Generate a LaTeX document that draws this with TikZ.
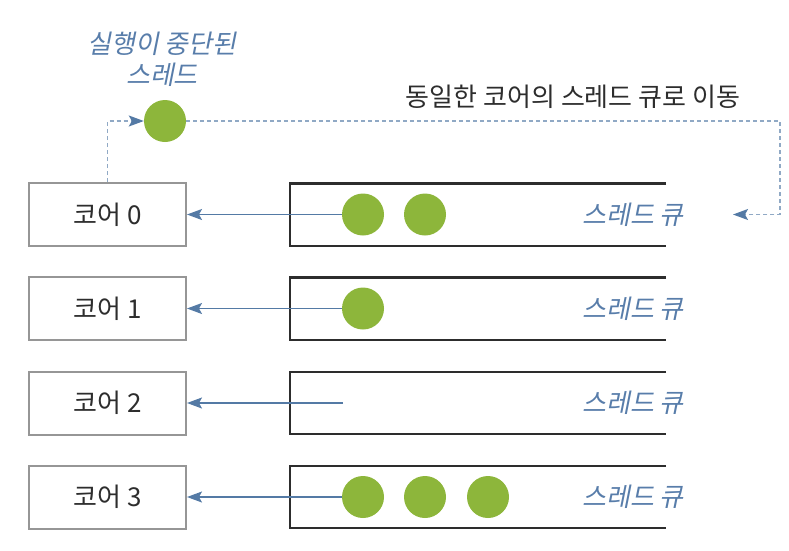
\documentclass[tikz,border=0pt]{standalone}
\usepackage{fontspec}
\setmainfont{Noto Sans CJK KR}
\newfontfamily\slantkr[FakeSlant=0.2]{Noto Sans CJK KR}
\usetikzlibrary{calc, arrows.meta}

\definecolor{threadgreen}{RGB}{141,182,59}
\definecolor{linkblue}{RGB}{84,122,165}
\definecolor{labelblue}{RGB}{88,125,170}
\definecolor{coregray}{RGB}{150,150,150}
\definecolor{textdark}{RGB}{45,45,45}

\begin{document}
\begin{tikzpicture}[x=1pt,y=-1pt,->,>={Stealth[length=15pt,width=11pt,inset=3pt]},
core/.style={shape=rectangle,draw=coregray,line width=2pt,minimum width=157pt,minimum height=63pt,inner sep=0pt,text=textdark,font=\fontsize{26}{30}\selectfont},
queue/.style={shape=rectangle,minimum width=376pt,minimum height=62pt,inner sep=0pt},
thread/.style={shape=circle,fill=threadgreen,minimum size=42pt,inner sep=0pt},
qlabel/.style={text=labelblue,font=\slantkr\fontsize{26}{30}\selectfont},
link/.style={draw=linkblue,line width=1.3pt},
movelink/.style={link,draw=linkblue!65,dash pattern=on 4pt off 3pt,-{Stealth[length=15pt,width=11pt,inset=3pt,linkblue]}},
%scale=0.7, transform shape
]
\useasboundingbox (0,0) rectangle (789,550);

\node [core] (nC0) at (107.5,214.5) {코어 0};
\node [core] (nC1) at (107.5,308.5) {코어 1};
\node [core] (nC2) at (107.5,403) {코어 2};
\node [core] (nC3) at (107.5,497) {코어 3};

\node [queue] (nQ0) at (478,214.5) {};
\node [queue] (nQ1) at (478,308.5) {};
\node [queue] (nQ2) at (478,403) {};
\node [queue] (nQ3) at (478,497) {};
\foreach \q in {nQ0,nQ1,nQ2,nQ3}
   \draw [-,line width=2.4pt,draw=textdark] (\q.north east) -- (\q.north west) -- (\q.south west) -- (\q.south east);

\node [thread] (nT00) at (363,214.5) {};
\node [thread] (nT01) at (425,214.5) {};
\node [thread] (nT10) at (363,308.5) {};
\coordinate (nE2) at (343,403);
\node [thread] (nT30) at (363,497) {};
\node [thread] (nT31) at (425,497) {};
\node [thread] (nT32) at (488,497) {};

\node [qlabel] (nL0) at (633,214.5) {스레드 큐};
\node [qlabel] (nL1) at (633,308.5) {스레드 큐};
\node [qlabel] (nL2) at (633,403) {스레드 큐};
\node [qlabel] (nL3) at (633,497) {스레드 큐};

\draw [link] (nT00.west) -- (nC0.east);
\draw [link] (nT10.west) -- (nC1.east);
\draw [link] (nE2) -- (nC2.east);
\draw [link] (nT30.west) -- (nC3.east);

% suspended thread and its move
\node [thread] (nS) at (165,121) {};
\node [qlabel,align=center,font=\slantkr\fontsize{26}{31}\selectfont] (nSL) at (162,59) {실행이 중단된\\스레드};
\node [text=textdark,font=\fontsize{26}{30}\selectfont] (nMove) at (573,97) {동일한 코어의 스레드 큐로 이동};
\coordinate (nTurn) at (780,121);
\coordinate (nBack) at (733,214.5);
\draw [movelink] (nC0.north) |- (nS.west);
\draw [movelink] (nS.east) -- (nTurn) |- (nBack);

\end{tikzpicture}
\end{document}
